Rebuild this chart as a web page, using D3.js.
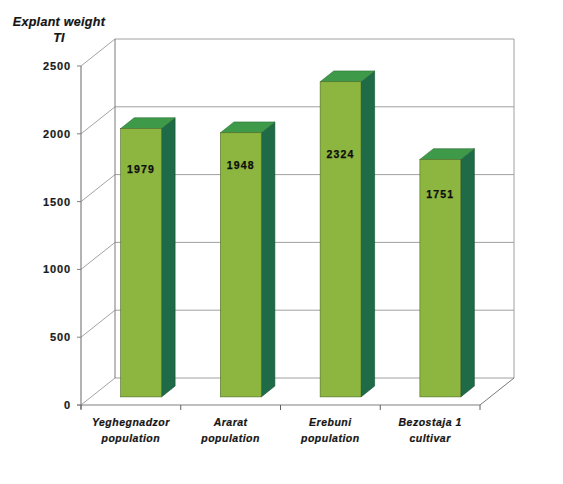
<!DOCTYPE html>
<html>
<head>
<meta charset="utf-8">
<script src="https://cdn.jsdelivr.net/npm/d3@7"></script>
<style>
  html, body { margin: 0; padding: 0; background: #fff; }
  svg { display: block; font-family: "Liberation Sans", Arial, sans-serif; }
</style>
</head>
<body>
<svg id="chart" width="563" height="484"></svg>
<script>
// Explant weight by population / cultivar
const categories = ["Yeghegnadzor population", "Ararat population", "Erebuni population", "Bezostaja 1 cultivar"];
const categoryLines = [["Yeghegnadzor", "population"], ["Ararat", "population"], ["Erebuni", "population"], ["Bezostaja 1", "cultivar"]];
const values = [1979, 1948, 2324, 1751];
const labelLevels = [1680, 1710, 1790, 1500];
const yTicks = [0, 500, 1000, 1500, 2000, 2500];
const yTitle = ["Explant weight", "TI"];

const svg = d3.select("#chart");

// Front plane of the 3D box and the depth vector to the back wall
const front = { left: 81, right: 480, top: 66, bottom: 405 };
const depth = { dx: 34, dy: -27 };
// Bars sit inside the box between 30% and 70% of the depth
const barFrontT = 0.3, barBackT = 0.7;

const x = d3.scaleBand().domain(categories).range([front.left, front.right]).paddingInner(0).paddingOuter(0);
const y = d3.scaleLinear().domain([0, 2500]).range([front.bottom, front.top]);

const gridColor = "#a0a0a0";
const g = svg.append("g");

// Back wall
const bx0 = front.left + depth.dx, bx1 = front.right + depth.dx;
yTicks.forEach(t => {
  const yy = y(t) + depth.dy;
  g.append("line").attr("x1", bx0).attr("x2", bx1).attr("y1", yy).attr("y2", yy)
    .attr("stroke", gridColor).attr("stroke-width", 1);
  // side wall lines from the front axis to the back wall
  g.append("line").attr("x1", front.left).attr("y1", y(t))
    .attr("x2", bx0).attr("y2", yy)
    .attr("stroke", "#8c8c8c").attr("stroke-width", 0.8);
});
g.append("line").attr("x1", bx0).attr("x2", bx0)
  .attr("y1", y(2500) + depth.dy).attr("y2", y(0) + depth.dy)
  .attr("stroke", "#7a7a7a").attr("stroke-width", 1);
g.append("line").attr("x1", bx1).attr("x2", bx1)
  .attr("y1", y(2500) + depth.dy).attr("y2", y(0) + depth.dy)
  .attr("stroke", gridColor).attr("stroke-width", 1);
// Floor right edge
g.append("line").attr("x1", front.right).attr("y1", y(0))
  .attr("x2", bx1).attr("y2", y(0) + depth.dy)
  .attr("stroke", "#7a7a7a").attr("stroke-width", 1);

// Bars
const bw = x.bandwidth() * 0.41;
const fdx = depth.dx * barFrontT, fdy = depth.dy * barFrontT;
const ddx = depth.dx * (barBackT - barFrontT), ddy = depth.dy * (barBackT - barFrontT);

const bars = g.selectAll("g.bar").data(values).enter().append("g").attr("class", "bar");
bars.each(function (v, i) {
  const sel = d3.select(this);
  const x0 = x(categories[i]) + (x.bandwidth() - bw) / 2 + fdx;
  const x1 = x0 + bw;
  const yt = y(v) + fdy;
  const yb = y(0) + fdy;
  // side face
  sel.append("path")
    .attr("d", `M${x1},${yt} L${x1 + ddx},${yt + ddy} L${x1 + ddx},${yb + ddy} L${x1},${yb} Z`)
    .attr("fill", "#1f6a47").attr("stroke", "#174f35").attr("stroke-width", 0.6);
  // top face
  sel.append("path")
    .attr("d", `M${x0},${yt} L${x0 + ddx},${yt + ddy} L${x1 + ddx},${yt + ddy} L${x1},${yt} Z`)
    .attr("fill", "#3e9a48").attr("stroke", "#2b7038").attr("stroke-width", 0.6);
  // front face
  sel.append("rect")
    .attr("x", x0).attr("y", yt).attr("width", bw).attr("height", yb - yt)
    .attr("fill", "#8cb63f").attr("stroke", "#4d6a25").attr("stroke-width", 0.6);
  // value label
  sel.append("text")
    .attr("x", x0 + bw / 2).attr("y", y(labelLevels[i]) + fdy + 4)
    .attr("text-anchor", "middle")
    .attr("font-size", 10.5).attr("font-weight", "bold").attr("letter-spacing", 1.2)
    .attr("fill", "#0d0d0d").attr("stroke", "#0d0d0d").attr("stroke-width", 0.25)
    .text(v);
});

// Front Y axis
g.append("line").attr("x1", front.left).attr("x2", front.left)
  .attr("y1", y(2500)).attr("y2", y(0) + 4)
  .attr("stroke", "#808080").attr("stroke-width", 1.2);
yTicks.forEach(t => {
  g.append("line").attr("x1", front.left - 4).attr("x2", front.left)
    .attr("y1", y(t)).attr("y2", y(t)).attr("stroke", "#808080").attr("stroke-width", 1);
  g.append("text").attr("x", front.left - 10).attr("y", y(t) + 4)
    .attr("text-anchor", "end").attr("font-size", 11).attr("font-weight", "bold")
    .attr("letter-spacing", 0.9)
    .attr("fill", "#1a1a1a").attr("stroke", "#1a1a1a").attr("stroke-width", 0.2).text(t);
});

// Front X axis (floor front edge) with category ticks
g.append("line").attr("x1", front.left - 4).attr("x2", front.right)
  .attr("y1", y(0)).attr("y2", y(0)).attr("stroke", "#808080").attr("stroke-width", 1.2);
const edges = categories.map(c => x(c)).concat([front.right]);
edges.forEach(ex => {
  g.append("line").attr("x1", ex).attr("x2", ex).attr("y1", y(0)).attr("y2", y(0) + 5)
    .attr("stroke", "#606060").attr("stroke-width", 1);
});

// Category labels
categories.forEach((c, i) => {
  const t = g.append("text").attr("text-anchor", "middle")
    .attr("font-size", 10.5).attr("font-weight", "bold").attr("font-style", "italic")
    .attr("letter-spacing", 0.5)
    .attr("fill", "#141414").attr("stroke", "#141414").attr("stroke-width", 0.2);
  categoryLines[i].forEach((line, k) => {
    t.append("tspan").attr("x", x(c) + x.bandwidth() / 2).attr("y", 426 + k * 16).text(line);
  });
});

// Y axis title
const title = g.append("text").attr("text-anchor", "middle")
  .attr("font-size", 12.5).attr("font-weight", "bold").attr("font-style", "italic")
  .attr("letter-spacing", 0.3)
  .attr("fill", "#141414").attr("stroke", "#141414").attr("stroke-width", 0.2);
yTitle.forEach((line, k) => {
  title.append("tspan").attr("x", 59).attr("y", 26 + k * 16).text(line);
});
</script>
</body>
</html>
